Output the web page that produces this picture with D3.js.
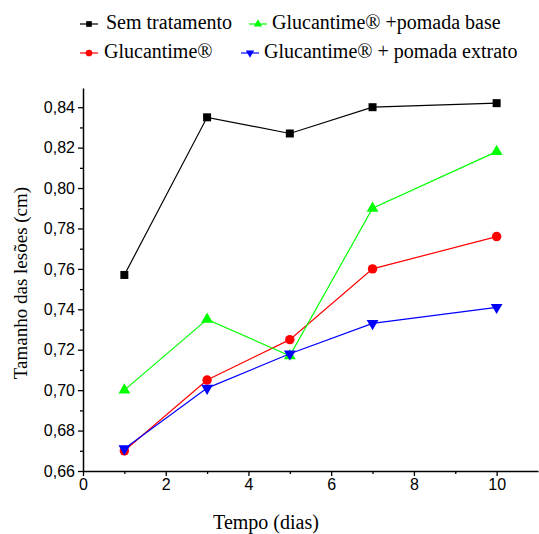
<!DOCTYPE html>
<html>
<head>
<meta charset="utf-8">
<script src="https://cdn.jsdelivr.net/npm/d3@7"></script>
<style>
  body { margin: 0; background: #fff; }
  .tick text { font-family: "Liberation Sans", Arial, sans-serif; font-size: 16px; fill: #000; }
  .title { font-family: "Liberation Serif", "Times New Roman", serif; font-size: 20px; fill: #000; }
</style>
</head>
<body>
<div id="chart"></div>
<script>
var width = 539,
    height = 534;

// days
var days = [1, 3, 5, 7, 10];
// lesion sizes (cm)
var semTratamento = [0.757, 0.835, 0.827, 0.840, 0.842];
var glucantime = [0.670, 0.705, 0.725, 0.760, 0.776];
var glucantimeBase = [0.700, 0.735, 0.717, 0.790, 0.818];
var glucantimeExtrato = [0.671, 0.701, 0.718, 0.733, 0.741];

var xTicks = [0, 2, 4, 6, 8, 10];
var yTicks = [0.66, 0.68, 0.70, 0.72, 0.74, 0.76, 0.78, 0.80, 0.82, 0.84];

var series = [
  { name: "Sem tratamento", values: semTratamento, color: "#000000", symbol: d3.symbolSquare, size: 64, rot: 0 },
  { name: "Glucantime®", values: glucantime, color: "#ff0000", symbol: d3.symbolCircle, size: 70, rot: 0 },
  { name: "Glucantime® +pomada base", values: glucantimeBase, color: "#00ff00", symbol: d3.symbolTriangle, size: 60, rot: 0 },
  { name: "Glucantime® + pomada extrato", values: glucantimeExtrato, color: "#0000ff", symbol: d3.symbolTriangle, size: 60, rot: 180 }
];

var margin = { left: 83, top: 88, right: 1, bottom: 63 };

var x = d3.scaleLinear()
    .domain([0, 11])
    .range([margin.left, width - margin.right]);

var y = d3.scaleLinear()
    .domain([0.66, 0.8495])
    .range([height - margin.bottom, margin.top]);

var svg = d3.select("#chart").append("svg")
    .attr("width", width)
    .attr("height", height);

var fmt = function (d) { return d3.format(".2f")(d).replace(".", ","); };

// minor ticks
svg.append("g")
    .attr("transform", "translate(0," + y(0.66) + ")")
    .call(d3.axisBottom(x).tickValues([1, 3, 5, 7, 9]).tickSize(3).tickFormat(""))
    .call(g => g.select(".domain").remove());
svg.append("g")
    .attr("transform", "translate(" + x(0) + ",0)")
    .call(d3.axisLeft(y).tickValues(d3.range(0.67, 0.85, 0.02)).tickSize(3).tickFormat(""))
    .call(g => g.select(".domain").remove());

var xAxis = svg.append("g")
    .attr("transform", "translate(0," + y(0.66) + ")")
    .call(d3.axisBottom(x).tickValues(xTicks).tickSize(5).tickSizeOuter(0).tickPadding(3).tickFormat(d3.format("d")));

var yAxis = svg.append("g")
    .attr("transform", "translate(" + x(0) + ",0)")
    .call(d3.axisLeft(y).tickValues(yTicks).tickSize(5).tickSizeOuter(0).tickPadding(3).tickFormat(fmt));

svg.selectAll(".domain").attr("stroke-width", 1.5);
svg.selectAll(".tick line").attr("stroke-width", 1.3);

var line = d3.line()
    .x((d, i) => x(days[i]))
    .y(d => y(d));

series.forEach(function (s) {
  svg.append("path")
      .datum(s.values)
      .attr("fill", "none")
      .attr("stroke", s.color)
      .attr("stroke-width", 1.2)
      .attr("d", line);

  svg.append("g").selectAll("path")
      .data(s.values)
      .enter().append("path")
      .attr("d", d3.symbol().type(s.symbol).size(s.size))
      .attr("fill", s.color)
      .attr("transform", (d, i) => "translate(" + x(days[i]) + "," + y(d) + ") rotate(" + s.rot + ")");
});

// legend
var legendPos = [
  { s: 0, x: 80, y: 24, tx: 26 },
  { s: 2, x: 249, y: 24, tx: 23 },
  { s: 1, x: 80, y: 53, tx: 24 },
  { s: 3, x: 241, y: 53, tx: 23 }
];
legendPos.forEach(function (p) {
  var s = series[p.s];
  var g = svg.append("g").attr("transform", "translate(" + p.x + "," + p.y + ")");
  g.append("line").attr("x1", 0).attr("x2", 18).attr("stroke", s.color).attr("stroke-width", 1.2);
  g.append("path")
      .attr("d", d3.symbol().type(s.symbol).size(s.size * 0.5))
      .attr("fill", s.color)
      .attr("transform", "translate(9,0) rotate(" + s.rot + ")");
  g.append("text")
      .attr("class", "title")
      .attr("x", p.tx)
      .attr("y", 5)
      .text(s.name);
});

svg.append("text")
    .attr("class", "title")
    .attr("x", 266)
    .attr("y", 529)
    .attr("text-anchor", "middle")
    .text("Tempo (dias)");

svg.append("text")
    .attr("class", "title")
    .attr("transform", "translate(27," + 283 + ") rotate(-90)")
    .attr("text-anchor", "middle")
    .style("font-size", "19px")
    .text("Tamanho das lesões (cm)");
</script>
</body>
</html>
